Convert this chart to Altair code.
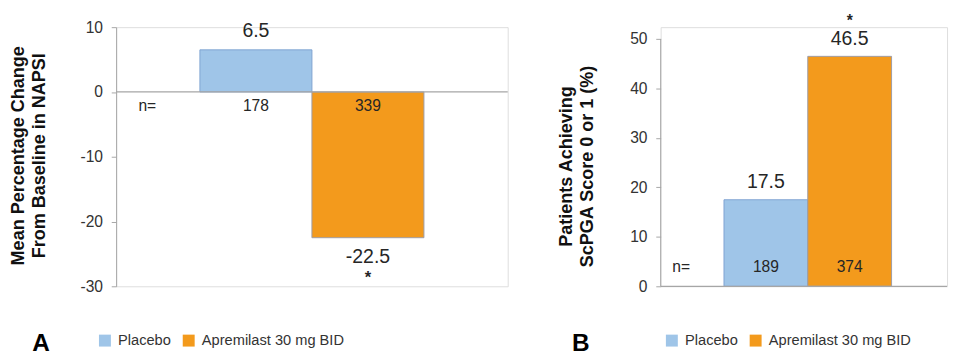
import altair as alt
import pandas as pd

FONT = "Liberation Sans"

groups = ["Placebo", "Apremilast 30 mg BID"]
colors = ["#9FC5E8", "#F39A1C"]
bar_strokes = ["#7FA4D2", "#9C9CA8"]

napsi_change = [6.5, -22.5]
napsi_n = [178, 339]
napsi_star = ["", "*"]
napsi_ticks = [10, 0, -10, -20, -30]
napsi_title = ["Mean Percentage Change", "From Baseline in NAPSI"]

scpga_pct = [17.5, 46.5]
scpga_n = [189, 374]
scpga_star = ["", "*"]
scpga_ticks = [0, 10, 20, 30, 40, 50]
scpga_title = ["Patients Achieving", "ScPGA Score 0 or 1 (%)"]

n_label = ["n="]
panel_letters = ["A", "B"]

dfa = pd.DataFrame({"group": groups, "value": napsi_change, "n": napsi_n,
                    "star": napsi_star, "label": [f"{v}" for v in napsi_change]})
dfb = pd.DataFrame({"group": groups, "value": scpga_pct, "n": scpga_n,
                    "star": scpga_star, "label": [f"{v}" for v in scpga_pct]})
one = pd.DataFrame({"t": n_label})

AXIS_GRAY = "#A6A6A6"
TXT = "#262626"


def legend(x, y):
    return alt.Legend(orient="none", direction="horizontal", legendX=x, legendY=y,
                      title=None, symbolType="square", symbolSize=150,
                      symbolStrokeWidth=0, labelFont=FONT, labelFontSize=15,
                      labelColor="#333333", columnPadding=10, labelOffset=6)


def yaxis(ticks, domain=True):
    return alt.Axis(values=ticks, title=None, labelFont=FONT, labelFontSize=16,
                    labelExpr="datum.value",
                    labelColor="#333333", labelPadding=9, tickSize=5,
                    tickColor=AXIS_GRAY, domain=domain, domainColor=AXIS_GRAY,
                    grid=False)


def ytitle(lines, x, y):
    return alt.Chart(one).mark_text(
        text=lines, font=FONT, fontSize=18.5, fontWeight="bold", color="#111111",
        angle=270, align="center", baseline="middle", lineHeight=22
    ).encode(x=alt.value(x), y=alt.value(y))


# ---------- Panel A ----------
xa = alt.X("group:N", sort=groups, axis=None,
           scale=alt.Scale(paddingInner=0, paddingOuter=0.748, align=0.5))
ya_scale = alt.Scale(domain=[-30, 10], nice=False, zero=False)

base_a = alt.Chart(dfa)
bars_a = base_a.mark_bar(strokeWidth=1).encode(
    x=xa,
    y=alt.Y("value:Q", scale=ya_scale, axis=yaxis(napsi_ticks)),
    y2=alt.datum(0),
    color=alt.Color("group:N", scale=alt.Scale(domain=groups, range=colors),
                    legend=legend(-19, 314)),
    stroke=alt.Stroke("group:N", scale=alt.Scale(domain=groups, range=bar_strokes),
                      legend=None),
)
zero_a = alt.Chart(one).mark_rule(color=AXIS_GRAY, strokeWidth=1.2).encode(y=alt.datum(0))
pos_a = base_a.transform_filter("datum.value >= 0").mark_text(
    font=FONT, fontSize=20, color=TXT, baseline="middle", dy=-19
).encode(x=xa, y="value:Q", text="label:N")
neg_a = base_a.transform_filter("datum.value < 0").mark_text(
    font=FONT, fontSize=20, color=TXT, baseline="middle", dy=20
).encode(x=xa, y="value:Q", text="label:N")
star_a = base_a.transform_filter("datum.value < 0").mark_text(
    font=FONT, fontSize=17, fontWeight="bold", color=TXT, baseline="top", dy=33
).encode(x=xa, y="value:Q", text="star:N")
n_a = base_a.mark_text(font=FONT, fontSize=16, color=TXT, baseline="middle", dy=15).encode(
    x=xa, y=alt.datum(0), text="n:N")
neq_a = alt.Chart(one).mark_text(font=FONT, fontSize=16, color=TXT, baseline="middle",
                                 align="center", dy=15).encode(
    x=alt.value(32), y=alt.datum(0), text="t:N")
letter_a = alt.Chart(one).mark_text(text=panel_letters[0], font=FONT, fontSize=25,
                                    fontWeight="bold", color="#000000",
                                    baseline="middle", align="center").encode(
    x=alt.value(-77), y=alt.value(324))
title_a = ytitle(napsi_title, -101, 132)

panel_a = alt.layer(bars_a, zero_a, pos_a, neg_a, star_a, n_a, neq_a, letter_a,
                    title_a).properties(width=402, height=266)

# ---------- Panel B ----------
xb = alt.X("group:N", sort=groups, axis=None,
           scale=alt.Scale(paddingInner=0, paddingOuter=0.709, align=0.533))
yb_scale = alt.Scale(domain=[0, 52.4], nice=False)

base_b = alt.Chart(dfb)
bars_b = base_b.mark_bar(strokeWidth=1).encode(
    x=xb,
    y=alt.Y("value:Q", scale=yb_scale, axis=yaxis(scpga_ticks, domain=False)),
    y2=alt.datum(0),
    color=alt.Color("group:N", scale=alt.Scale(domain=groups, range=colors),
                    legend=legend(4, 314)),
    stroke=alt.Stroke("group:N", scale=alt.Scale(domain=groups, range=bar_strokes),
                      legend=None),
)
zero_b = alt.Chart(one).mark_rule(color=AXIS_GRAY, strokeWidth=1.2).encode(y=alt.datum(0))
vaxis_b = alt.Chart(one).mark_rule(color=AXIS_GRAY, strokeWidth=1).encode(
    x=alt.value(0), y=alt.datum(0), y2=alt.datum(50))
lab_b = base_b.mark_text(font=FONT, fontSize=20, color=TXT, baseline="middle", dy=-18).encode(
    x=xb, y="value:Q", text="label:N")
star_b = base_b.mark_text(font=FONT, fontSize=16, fontWeight="bold", color=TXT,
                          baseline="bottom", dy=-28).encode(
    x=xb, y="value:Q", text="star:N")
n_b = base_b.mark_text(font=FONT, fontSize=16, color=TXT, baseline="middle", dy=-20).encode(
    x=xb, y=alt.datum(0), text="n:N")
neq_b = alt.Chart(one).mark_text(font=FONT, fontSize=16, color=TXT, baseline="middle",
                                 align="center", dy=-20).encode(
    x=alt.value(21), y=alt.datum(0), text="t:N")
letter_b = alt.Chart(one).mark_text(text=panel_letters[1], font=FONT, fontSize=25,
                                    fontWeight="bold", color="#000000",
                                    baseline="middle", align="center").encode(
    x=alt.value(-82), y=alt.value(324))
title_b = ytitle(scpga_title, -97, 143)

panel_b = alt.layer(bars_b, zero_b, vaxis_b, lab_b, star_b, n_b, neq_b, letter_b,
                    title_b).properties(width=294, height=266)

chart = alt.hconcat(panel_a, panel_b, spacing=48).resolve_scale(
    color="independent", stroke="independent", x="independent", y="independent"
).properties(padding=0).configure_view(stroke=None).configure(background="white")

chart.save("out.html", embed_options={"renderer": "svg", "actions": False})
